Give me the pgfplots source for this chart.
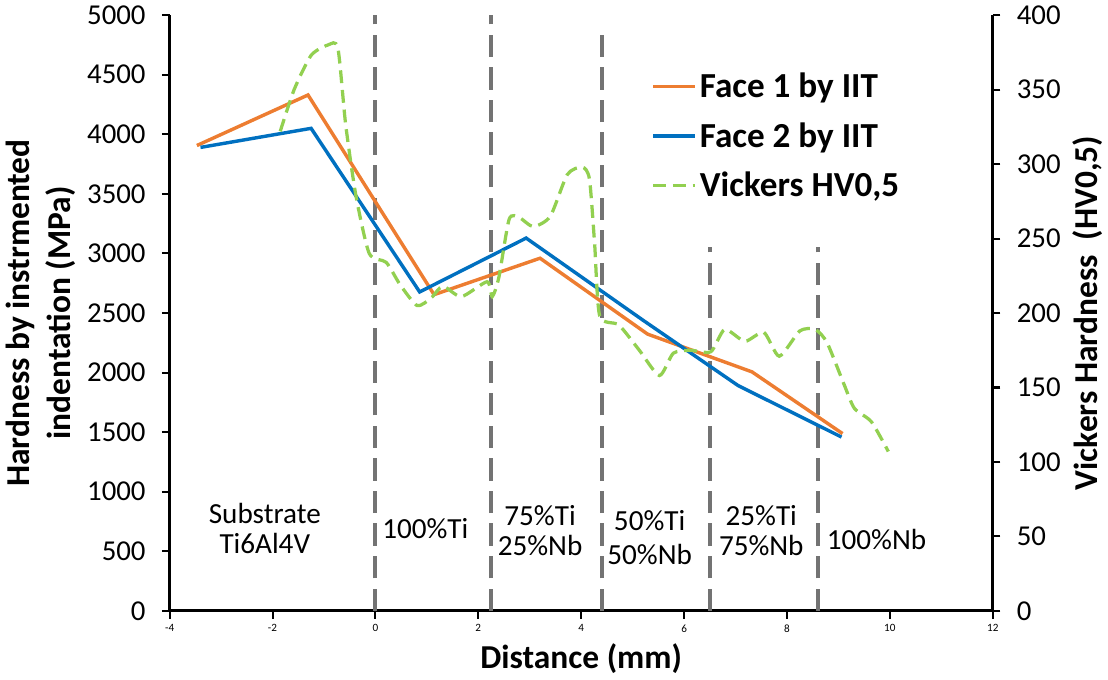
\documentclass[border=0pt]{standalone}
\usepackage{pgfplots}
\pgfplotsset{compat=1.18}
\usepackage{fontspec}
\setmainfont{Carlito}
\definecolor{forange}{HTML}{ED7D31}
\definecolor{fblue}{HTML}{0070C0}
\definecolor{fgreen}{HTML}{92D050}
\definecolor{dgray}{HTML}{737373}
\begin{document}
\begin{tikzpicture}
\pgfplotsset{
  every axis/.append style={
    width=480pt, height=347.4pt, scale only axis,
    xmin=-4, xmax=12,
    /pgf/number format/assume math mode=true,
    tick style={black, line width=1.2pt},
    major tick length=4.5pt,
    tick align=outside,
    axis line style={black, line width=1.8pt},
    ticklabel style={font=\fontsize{16.8}{20}\selectfont},
  }
}
\begin{axis}[
  axis y line*=left, axis x line*=bottom,
  ymin=0, ymax=5000, ytick={0,500,...,5000},
  xtick={-4,-2,...,12},
  xticklabel style={font=\fontsize{6.5}{7}\selectfont},
  yticklabel style={xshift=-6pt},
  scaled y ticks=false,
  yticklabel style={/pgf/number format/.cd, 1000 sep={}},
  ylabel={\textbf{Hardness by instrmented}\\\textbf{indentation (MPa)}},
  ylabel style={align=center, font=\fontsize{19.5}{24}\selectfont},
  xlabel={\textbf{Distance (mm)}},
  xlabel style={font=\fontsize{19.5}{24}\selectfont, yshift=0pt},
]
% vertical separators
\addplot[dgray, line width=2.4pt, dash pattern=on 13pt off 6pt, forget plot] coordinates {(0,0) (0,5000)};
\addplot[dgray, line width=2.4pt, dash pattern=on 13pt off 6pt, forget plot] coordinates {(2.25,0) (2.25,5000)};
\addplot[dgray, line width=2.4pt, dash pattern=on 13pt off 6pt, forget plot] coordinates {(4.4,0) (4.4,4870)};
\addplot[dgray, line width=2.4pt, dash pattern=on 13pt off 6pt, forget plot] coordinates {(6.5,0) (6.5,3050)};
\addplot[dgray, line width=2.4pt, dash pattern=on 13pt off 6pt, forget plot] coordinates {(8.6,0) (8.6,3050)};
% Face 1
\addplot[forange, line width=2pt, mark=none] coordinates {
(-3.47,3906) (-1.31,4330) (1.14,2654) (3.2,2960) (5.29,2323) (7.32,2006) (9.08,1488)};
% Face 2
\addplot[fblue, line width=2pt, mark=none] coordinates {
(-3.4,3890) (-1.25,4050) (0.86,2677) (2.93,3129) (5.2,2440) (7.05,1891) (9.06,1459)};
% labels
\node[align=center, font=\fontsize{17}{17.5}\selectfont] at (axis cs:-2.15,690) {Substrate\\Ti6Al4V};
\node[font=\fontsize{17}{17.5}\selectfont] at (axis cs:0.97,690) {100\%Ti};
\node[align=center, font=\fontsize{17}{17.5}\selectfont] at (axis cs:3.2,670) {75\%Ti\\25\%Nb};
\node[align=center, font=\fontsize{17}{20}\selectfont] at (axis cs:5.33,615) {50\%Ti\\50\%Nb};
\node[align=center, font=\fontsize{17}{17.5}\selectfont] at (axis cs:7.5,670) {25\%Ti\\75\%Nb};
\node[font=\fontsize{17}{17.5}\selectfont] at (axis cs:9.74,600) {100\%Nb};
\end{axis}
\begin{axis}[
  axis y line*=right, axis x line=none,
  ymin=0, ymax=400, ytick={0,50,...,400},
  yticklabel style={xshift=6pt},
  ylabel={\textbf{Vickers Hardness\ \ (HV0,5)}},
  ylabel style={font=\fontsize{19.5}{24}\selectfont},
  legend style={at={(0.585,0.915)}, anchor=north west, draw=none, fill=none,
    font=\fontsize{20.5}{25}\selectfont\bfseries, row sep=9pt, inner xsep=0pt,
    /tikz/every even column/.append style={column sep=0pt}},
  legend cell align=left,
  legend image code/.code={\draw[#1] (0cm,0cm) -- (0.85cm,0cm);},
]
\addlegendimage{forange, line width=2pt}
\addlegendentry{Face 1 by IIT}
\addlegendimage{fblue, line width=2pt}
\addlegendentry{Face 2 by IIT}
\addplot[fgreen, line width=1.9pt, dash pattern=on 7.5pt off 4pt, smooth, tension=0.4, mark=none] coordinates {
(-1.85,322) (-1.58,350) (-1.25,373) (-0.92,380) (-0.73,378) (-0.58,327) (-0.38,279)
(-0.12,240) (0.21,234) (0.48,219) (0.81,205) (1.08,210) (1.31,218) (1.67,211)
(2.17,221) (2.27,211) (2.4,224) (2.6,263) (2.8,264) (3.07,258) (3.4,265)
(3.73,293) (4.02,298) (4.16,290) (4.26,247) (4.36,198) (4.73,192) (5.13,175)
(5.52,158) (5.79,173) (6.12,175) (6.52,174) (6.79,189) (7.18,181) (7.55,187)
(7.85,171) (8.25,188) (8.55,189) (8.78,180) (9.11,152) (9.31,136) (9.64,127) (9.97,107)};
\addlegendentry{Vickers HV0,5}
\end{axis}
\end{tikzpicture}
\end{document}
